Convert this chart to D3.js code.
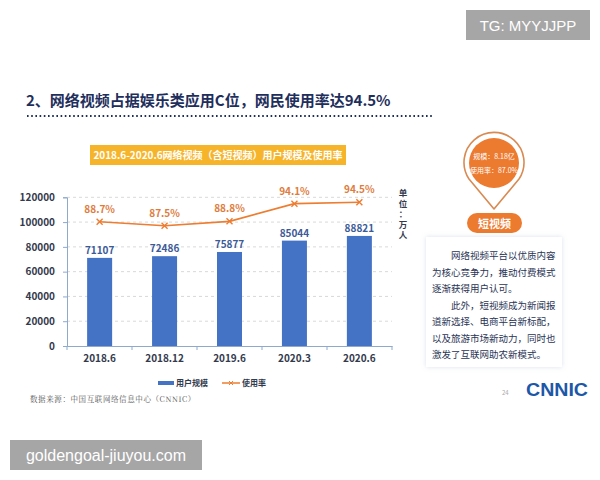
<!DOCTYPE html>
<html>
<head>
<meta charset="utf-8">
<script src="https://cdn.jsdelivr.net/npm/d3@7/dist/d3.min.js"></script>
<style>
  body { margin: 0; background: #fff; }
  svg text { font-family: "Noto Sans CJK SC", "Noto Sans", sans-serif; }
</style>
</head>
<body>
<div id="chart"></div>
<script>
// data
var categories = ['2018.6', '2018.12', '2019.6', '2020.3', '2020.6']
var users = [71107, 72486, 75877, 85044, 88821]
var rates = [88.7, 87.5, 88.8, 94.1, 94.5]
var yTicks = [0, 20000, 40000, 60000, 80000, 100000, 120000]
var noteLines = [
  '\u3000\u3000网络视频平台以优质内容',
  '为核心竞争力，推动付费模式',
  '逐渐获得用户认可。',
  '\u3000\u3000此外，短视频成为新闻报',
  '道新选择、电商平台新标配，',
  '以及旅游市场新动力，同时也',
  '激发了互联网助农新模式。'
]

var W = 600, H = 480
var svg = d3.select('#chart').append('svg')
  .attr('width', W).attr('height', H)

var navy = '#1f2f5c'
var blue = '#4472c4'
var orange = '#ed7d31'

// watermark top right
svg.append('rect').attr('x', 466).attr('y', 10).attr('width', 124).attr('height', 30).attr('fill', '#a6a6a6')
svg.append('text').attr('x', 528).attr('y', 31).attr('text-anchor', 'middle')
  .attr('fill', '#fff').style('font-size', '15px').style('font-family', 'Liberation Sans, sans-serif')
  .text('TG: MYYJJPP')

// page title
svg.append('text').attr('x', 26).attr('y', 106)
  .attr('fill', navy).style('font-size', '15px').style('font-weight', 'bold')
  .text('2、网络视频占据娱乐类应用C位，网民使用率达94.5%')
svg.append('line').attr('x1', 27).attr('x2', 432).attr('y1', 116).attr('y2', 116)
  .attr('stroke', navy).attr('stroke-width', 2).attr('stroke-dasharray', '1.6,2.6')

// chart title box
svg.append('rect').attr('x', 90).attr('y', 145).attr('width', 256).attr('height', 20).attr('fill', '#f6b42b')
svg.append('text').attr('x', 218).attr('y', 159).attr('text-anchor', 'middle')
  .attr('fill', '#fff').style('font-size', '10px').style('font-weight', 'bold')
  .text('2018.6-2020.6网络视频（含短视频）用户规模及使用率')

// plot area
var margin = { left: 67, top: 197.3, right: 392, bottom: 346 }

var x = d3.scaleBand().domain(categories).range([margin.left, margin.right]).paddingInner(0.615).paddingOuter(0.31)
var y = d3.scaleLinear().domain([0, 120000]).range([margin.bottom, margin.top])
var y2 = d3.scaleLinear().domain([51.5, 96]).range([margin.bottom, margin.top])

var g = svg.append('g')

// gridlines
g.selectAll('.grid').data(yTicks.slice(1))
  .enter().append('line')
  .attr('class', 'grid')
  .attr('x1', margin.left).attr('x2', margin.right)
  .attr('y1', function(d){ return y(d) }).attr('y2', function(d){ return y(d) })
  .attr('stroke', '#d9d9d9').attr('stroke-width', 1).attr('stroke-dasharray', '3,3')

// y axis
var yAxis = g.append('g')
  .attr('transform', 'translate(' + margin.left + ',0)')
  .call(d3.axisLeft(y).tickValues(yTicks).tickSize(4).tickPadding(8).tickFormat(d3.format('d')))
yAxis.select('.domain').attr('stroke', '#8ea9cc')
yAxis.selectAll('.tick line').attr('stroke', '#8ea9cc')
yAxis.selectAll('text').attr('fill', '#333a4d').style('font-size', '10px').style('font-weight', 'bold')
  .style('font-family', '"Noto Sans CJK SC", sans-serif')

// bars
g.selectAll('.bar').data(users)
  .enter().append('rect')
  .attr('class', 'bar')
  .attr('x', function(d, i){ return x(categories[i]) })
  .attr('width', x.bandwidth())
  .attr('y', function(d){ return y(d) })
  .attr('height', function(d){ return y(0) - y(d) })
  .attr('fill', blue)

g.selectAll('.barlabel').data(users)
  .enter().append('text')
  .attr('class', 'barlabel')
  .attr('x', function(d, i){ return x(categories[i]) + x.bandwidth() / 2 })
  .attr('y', function(d){ return y(d) - 4 })
  .attr('text-anchor', 'middle')
  .attr('fill', '#3b5a98').style('font-size', '10px').style('font-weight', 'bold')
  .text(function(d){ return d })

// x axis
var xAxis = g.append('g')
  .attr('transform', 'translate(0,' + margin.bottom + ')')
  .call(d3.axisBottom(x).tickSize(0).tickPadding(9))
xAxis.select('.domain').attr('stroke', '#8ea9cc')
xAxis.selectAll('text').attr('fill', '#333a4d').style('font-size', '10px').style('font-weight', 'bold')
  .style('font-family', '"Noto Sans CJK SC", sans-serif')
// tick marks on band edges
g.selectAll('.xtick').data(d3.range(categories.length + 1))
  .enter().append('line')
  .attr('x1', function(i){ return margin.left + i * (margin.right - margin.left) / categories.length })
  .attr('x2', function(i){ return margin.left + i * (margin.right - margin.left) / categories.length })
  .attr('y1', margin.bottom).attr('y2', margin.bottom + 4)
  .attr('stroke', '#8ea9cc')

// rate line
var line = d3.line()
  .x(function(d, i){ return x(categories[i]) + x.bandwidth() / 2 })
  .y(function(d){ return y2(d) })

g.append('path').datum(rates)
  .attr('d', line)
  .attr('fill', 'none').attr('stroke', orange).attr('stroke-width', 1.6)

var markers = g.selectAll('.mk').data(rates).enter().append('g')
  .attr('transform', function(d, i){ return 'translate(' + (x(categories[i]) + x.bandwidth() / 2) + ',' + y2(d) + ')' })
markers.append('path').attr('d', 'M-3,-3L3,3M-3,3L3,-3').attr('stroke', orange).attr('stroke-width', 1.4)

g.selectAll('.ratelabel').data(rates)
  .enter().append('text')
  .attr('x', function(d, i){ return x(categories[i]) + x.bandwidth() / 2 })
  .attr('y', function(d){ return y2(d) - 9 })
  .attr('text-anchor', 'middle')
  .attr('fill', '#e07b3c').style('font-size', '10px').style('font-weight', 'bold')
  .text(function(d){ return d.toFixed(1) + '%' })

// unit label (vertical)
var unit = ['单', '位', '：', '万', '人']
svg.selectAll('.unit').data(unit).enter().append('text')
  .attr('x', 403).attr('y', function(d, i){ return 196 + i * 10.5 })
  .attr('text-anchor', 'middle')
  .attr('fill', '#333a4d').style('font-size', '8.5px').style('font-weight', 'bold')
  .text(function(d){ return d })

// legend
svg.append('rect').attr('x', 158).attr('y', 381).attr('width', 16).attr('height', 4).attr('fill', blue)
svg.append('text').attr('x', 176).attr('y', 386).attr('fill', '#333a4d')
  .style('font-size', '8px').style('font-weight', 'bold').text('用户规模')
svg.append('line').attr('x1', 222).attr('x2', 240).attr('y1', 383).attr('y2', 383)
  .attr('stroke', orange).attr('stroke-width', 1.5)
svg.append('path').attr('d', 'M229,381L233,385M229,385L233,381').attr('stroke', orange).attr('stroke-width', 1)
svg.append('text').attr('x', 242).attr('y', 386).attr('fill', '#333a4d')
  .style('font-size', '8px').style('font-weight', 'bold').text('使用率')

// source
svg.append('text').attr('x', 30).attr('y', 402).attr('fill', '#555')
  .style('font-size', '7.5px').style('font-family', '"Noto Serif CJK SC", "Noto Sans CJK SC", serif')
  .style('letter-spacing', '0.6px')
  .text('数据来源：中国互联网络信息中心（CNNIC）')

// pin marker: thin outline ring with an orange disc inside
var pin = svg.append('g').attr('transform', 'translate(494,163)')
pin.append('path')
  .attr('d', 'M-25,16 A30,30 0 1 1 25,16 L0,46 Z')
  .attr('fill', '#fff').attr('stroke', '#d98a52').attr('stroke-width', 1.6).attr('stroke-linejoin', 'round')
pin.append('circle').attr('r', 25).attr('fill', '#ec7a2f')
pin.append('text').attr('x', 0).attr('y', -4).attr('text-anchor', 'middle')
  .attr('fill', '#fff').style('font-size', '7px').text('规模：8.18亿')
pin.append('text').attr('x', 0).attr('y', 10).attr('text-anchor', 'middle')
  .attr('fill', '#fff').style('font-size', '7px').text('使用率：87.0%')

// short video pill
svg.append('rect').attr('x', 467).attr('y', 213).attr('width', 55).attr('height', 20).attr('rx', 10)
  .attr('fill', '#ec7a2f')
svg.append('text').attr('x', 494.5).attr('y', 227.5).attr('text-anchor', 'middle')
  .attr('fill', '#fff').style('font-size', '11px').style('font-weight', 'bold').text('短视频')

// note box
var defs = svg.append('defs')
var f = defs.append('filter').attr('id', 'sh').attr('x', '-10%').attr('y', '-10%').attr('width', '120%').attr('height', '120%')
f.append('feDropShadow').attr('dx', 0).attr('dy', 0).attr('stdDeviation', 2.5).attr('flood-color', '#9aa8c8').attr('flood-opacity', 0.35)
svg.append('rect').attr('x', 426).attr('y', 237).attr('width', 136).attr('height', 130)
  .attr('fill', '#fff').attr('filter', 'url(#sh)')
svg.selectAll('.note').data(noteLines).enter().append('text')
  .attr('x', 432).attr('y', function(d, i){ return 259 + i * 16.5 })
  .attr('fill', '#2a3556').style('font-size', '9.5px')
  .text(function(d){ return d })

// page number and logo
svg.append('text').attr('x', 502).attr('y', 395).attr('fill', '#aaa').style('font-size', '6px').text('24')
svg.append('text').attr('x', 526).attr('y', 396).attr('fill', '#1d57a8')
  .style('font-size', '19px').style('font-weight', 'bold').style('font-family', 'Liberation Sans, sans-serif')
  .attr('textLength', 62).attr('lengthAdjust', 'spacingAndGlyphs')
  .text('CNNIC')

// watermark bottom left
svg.append('rect').attr('x', 10).attr('y', 440).attr('width', 192).attr('height', 30).attr('fill', '#a6a6a6')
svg.append('text').attr('x', 106).attr('y', 461).attr('text-anchor', 'middle')
  .attr('fill', '#fff').style('font-size', '16px').style('font-family', 'Liberation Sans, sans-serif')
  .text('goldengoal-jiuyou.com')
</script>
</body>
</html>
